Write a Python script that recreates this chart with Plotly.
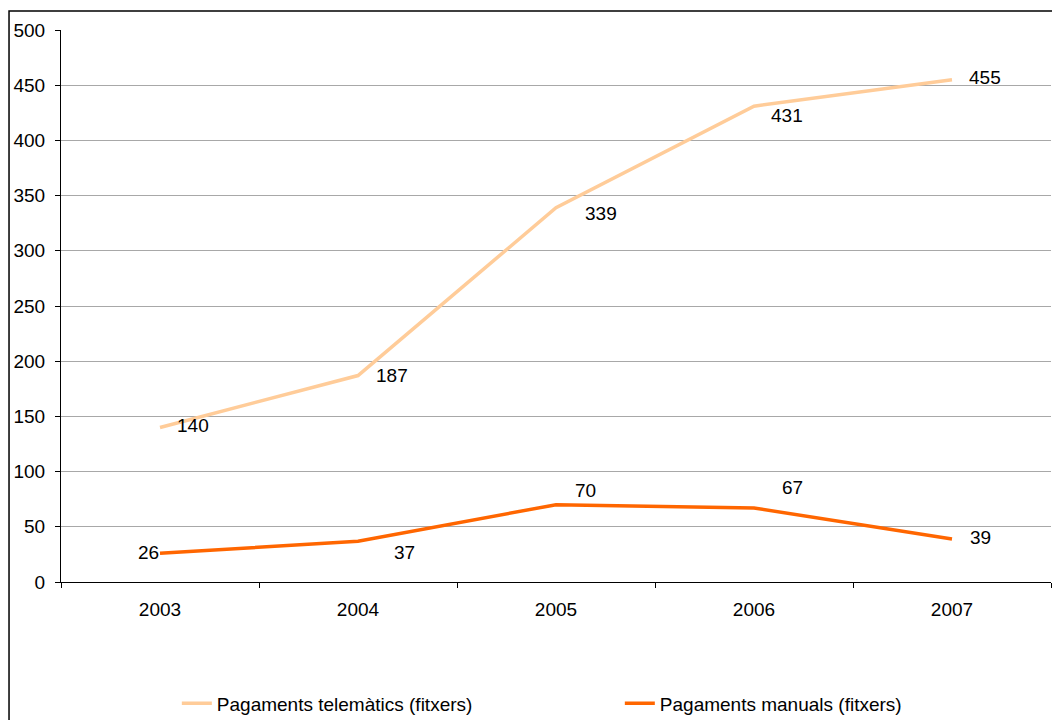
import plotly.graph_objects as go

years = ["2003", "2004", "2005", "2006", "2007"]
telematics = [140, 187, 339, 431, 455]
manual = [26, 37, 70, 67, 39]
name_tele = "Pagaments telemàtics (fitxers)"
name_manual = "Pagaments manuals (fitxers)"
y_ticks = [0, 50, 100, 150, 200, 250, 300, 350, 400, 450, 500]

# label offsets in pixels (style only)
tele_off = [(33, 2), (34, 0), (45, -6), (33, -9), (33, 2)]
manual_off = [(-12, 1), (46, -11), (29, 14), (38, 21), (28, 1)]

FONT = "Liberation Sans, Arial, sans-serif"
FS = 19
fig = go.Figure()
fig.add_trace(go.Scatter(x=years, y=telematics, mode="lines", name=name_tele,
                         line=dict(color="#FFCC99", width=3.5)))
fig.add_trace(go.Scatter(x=years, y=manual, mode="lines", name=name_manual,
                         line=dict(color="#FF6600", width=3.5)))

ann = []
for ys, offs in [(telematics, tele_off), (manual, manual_off)]:
    for i, (y, (dx, dy)) in enumerate(zip(ys, offs)):
        ann.append(dict(x=i, y=y, xref="x", yref="y", text=str(y), showarrow=False,
                        xshift=dx, yshift=dy, font=dict(family=FONT, size=FS, color="#000")))

fig.update_layout(
    width=1052, height=712,
    margin=dict(l=53, r=9, t=22, b=138, autoexpand=False),
    paper_bgcolor="white", plot_bgcolor="white",
    font=dict(family=FONT, size=FS, color="#000"),
    showlegend=True,
    legend=dict(orientation="h", x=0.117, xanchor="left", y=-0.22, yanchor="middle",
                font=dict(family=FONT, size=FS), tracegroupgap=0,
                entrywidth=398, entrywidthmode="pixels"),
    annotations=ann,
    shapes=[dict(type="rect", xref="paper", yref="paper", x0=-0.0525, x1=1.05,
                 y0=-0.4, y1=1.0344, line=dict(color="#000", width=1.5),
                 fillcolor="rgba(0,0,0,0)", layer="below")],
)
fig.update_xaxes(type="category", range=[-0.5, 4.5], tickson="boundaries",
                 ticks="outside", ticklen=5, tickcolor="#000", showline=True,
                 linecolor="#000", linewidth=1, showgrid=False, ticklabelstandoff=10,
                 tickfont=dict(family=FONT, size=FS), zeroline=False)
fig.update_yaxes(range=[0, 500], tickvals=y_ticks, ticks="outside", ticklen=5,
                 tickcolor="#000", showline=True, linecolor="#000", linewidth=1,
                 showgrid=True, gridcolor="#A8A8A8", gridwidth=1, zeroline=False,
                 ticklabelstandoff=6, tickfont=dict(family=FONT, size=FS))
fig.write_html("out.html")
